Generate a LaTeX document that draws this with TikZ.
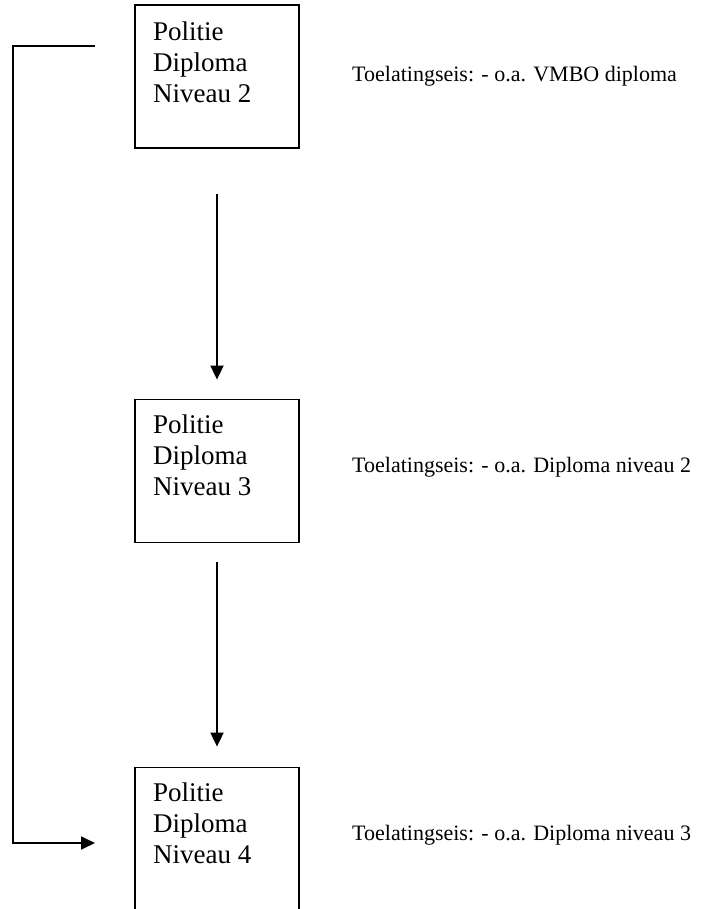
\documentclass[tikz,border=0pt]{standalone}
\usepackage{fontspec}
\setmainfont{Liberation Serif}
\usetikzlibrary{arrows.meta}

\begin{document}
\begin{tikzpicture}[x=1pt,y=-1pt]
    \clip (0,0) rectangle (701,909);

    \tikzstyle{box} = [draw,line width=1.8pt,minimum width=164pt,minimum height=143pt,inner sep=0pt]
    \tikzstyle{boxtext} = [anchor=north west,align=left,inner sep=0pt,font=\fontsize{27}{31}\selectfont]
    \tikzstyle{eis} = [anchor=base west,inner sep=0pt,font=\fontsize{22}{26}\selectfont]
    \tikzstyle{arrow} = [line width=1.8pt,-{Triangle[length=14pt,width=13pt]}]

    \foreach \n/\y/\t in {2/76.5/21.5,3/471/414.5,4/839/782.5} {
        \node[box] (b\n) at (217,\y) {};
        \node[boxtext] (t\n) at (153,\t) {Politie\\Diploma\\Niveau \n};
    }

    \node[eis] (e2) at (352,82) {Toelatingseis: - o.a. VMBO diploma};
    \node[eis] (e3) at (352,472) {Toelatingseis: - o.a. Diploma niveau 2};
    \node[eis] (e4) at (352,840) {Toelatingseis: - o.a. Diploma niveau 3};

    \draw[arrow,shorten <=45pt,shorten >=19pt] (b2) -- (b3);
    \draw[arrow,shorten <=19pt,shorten >=20pt] (b3) -- (b4);

    \coordinate (s) at (95,46);
    \coordinate (f) at (95,843);
    \draw[arrow] (s) -- (13,46) -- (13,843) -- (f);
\end{tikzpicture}
\end{document}
